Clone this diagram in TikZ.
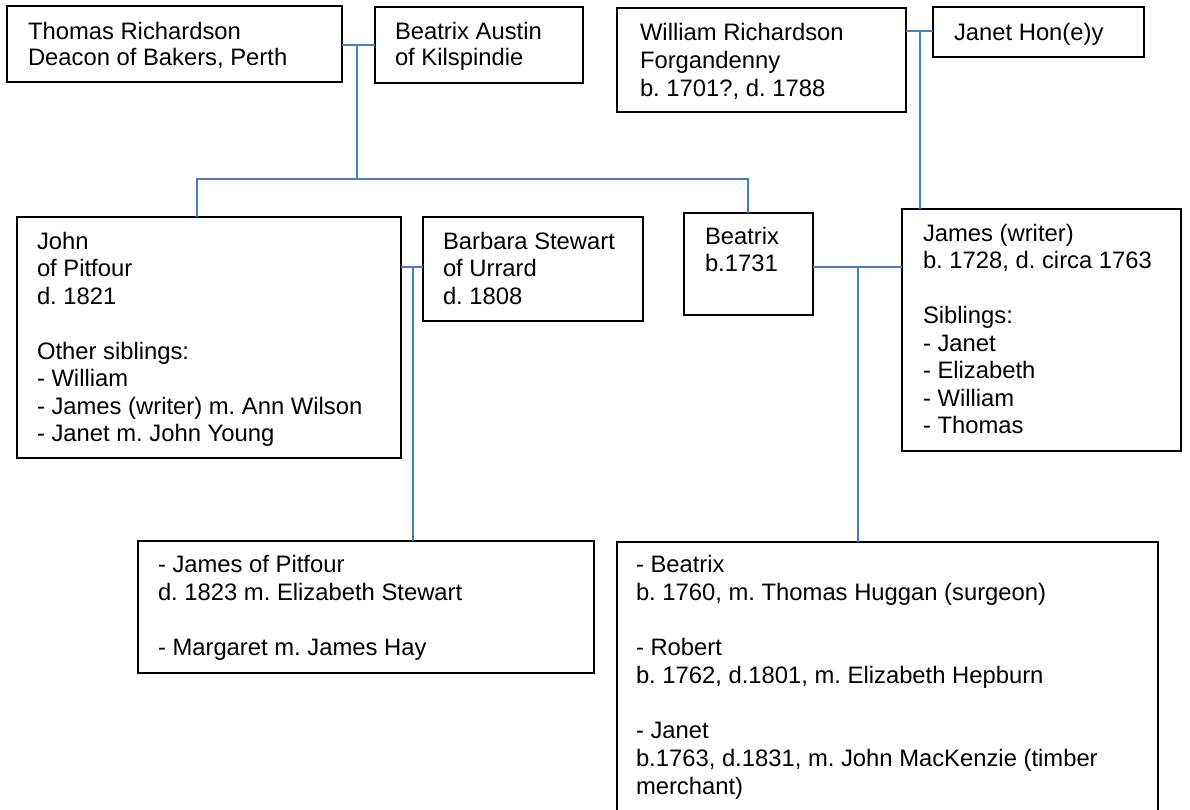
\documentclass[tikz,border=0pt]{standalone}
\usepackage{fontspec}
\setmainfont{Liberation Sans}
\usetikzlibrary{calc}
\frenchspacing

\definecolor{linkblue}{RGB}{74,126,187}

\begin{document}
\begin{tikzpicture}[x=1pt,y=-1pt,
  box/.style={draw=black, line width=1.6pt, inner sep=0pt, outer sep=0pt,
              anchor=north west, fill=none},
  txt/.style={inner sep=0pt, outer sep=0pt, anchor=north west, align=left,
              execute at begin node={\rule{0pt}{18pt}}},
  fs/.style={font=\fontsize{23.8}{#1}\selectfont\frenchspacing},
  link/.style={draw=linkblue, line width=1.8pt}
]
\useasboundingbox (0,0) rectangle (1190,809);

% family boxes
\node[box, minimum width=335pt, minimum height=76pt]  (thomas)  at (7,6)     {};
\node[box, minimum width=208pt, minimum height=76pt]  (beaA)    at (375,7)   {};
\node[box, minimum width=289pt, minimum height=104pt] (william) at (617,8)   {};
\node[box, minimum width=211pt, minimum height=50pt]  (janet)   at (933,7)   {};
\node[box, minimum width=384pt, minimum height=241pt] (john)    at (17,217)  {};
\node[box, minimum width=220pt, minimum height=104pt] (barbara) at (423,217) {};
\node[box, minimum width=129pt, minimum height=102pt] (beaC)    at (684,213) {};
\node[box, minimum width=279pt, minimum height=242pt] (james)   at (902,209) {};
\node[box, minimum width=456pt, minimum height=132pt] (pitfour) at (138,541) {};
\node[box, minimum width=541pt, minimum height=285pt] (kids)    at (617,542) {};

% box texts
\node[txt, fs=26] (thomas-t) at (28,22) {Thomas Richardson\\Deacon of Bakers, Perth};
\node[txt, fs=26] (beaA-t) at (395,22) {Beatrix Austin\\of Kilspindie};
\node[txt, fs=28] (william-t) at (640,23) {William Richardson\\Forgandenny\\b. 1701?, d. 1788};
\node[txt, fs=28] (janet-t) at (954,22) {Janet Hon(e)y};
\node[txt, fs=27.5] (john-t) at (37,232) {John\\of Pitfour\\d. 1821\\[27.5pt]Other siblings:\\- William\\- James (writer) m. Ann Wilson\\- Janet m. John Young};
\node[txt, fs=27.5] (barbara-t) at (443,232) {Barbara Stewart\\of Urrard\\d. 1808};
\node[txt, fs=27.5] (beaC-t) at (705,227) {Beatrix\\b.1731};
\node[txt, fs=27.5] (james-t) at (923,224) {James (writer)\\b. 1728, d. circa 1763\\[27.5pt]Siblings:\\- Janet\\- Elizabeth\\- William\\- Thomas};
\node[txt, fs=27.75] (pitfour-t) at (158,555) {- James of Pitfour\\d. 1823 m. Elizabeth Stewart\\[27.75pt]- Margaret m. James Hay};
\node[txt, fs=27.75] (kids-t) at (636,555) {- Beatrix\\b. 1760, m. Thomas Huggan (surgeon)\\[27.75pt]- Robert\\b. 1762, d.1801, m. Elizabeth Hepburn\\[27.75pt]- Janet\\b.1763, d.1831, m. John MacKenzie (timber\\merchant)};

% junction points of the marriage and sibling lines
\coordinate (m1) at (357,45);
\coordinate (m2) at (920,31);
\coordinate (m3) at (413,267);
\coordinate (m4) at (858,267);
\coordinate (barL) at (197,179);
\coordinate (barR) at (748,179);

% Thomas Richardson + Beatrix Austin
\draw[link] (thomas.east |- m1) -- (beaA.west |- m1);
\draw[link] (m1) -- (m1 |- barL);
\draw[link] (barL |- john.north) -- (barL) -- (barR) -- (barR |- beaC.north);

% William Richardson + Janet Hon(e)y
\draw[link] (william.east |- m2) -- (janet.west |- m2);
\draw[link] (m2) -- (m2 |- james.north);

% John + Barbara Stewart
\draw[link] (john.east |- m3) -- (barbara.west |- m3);
\draw[link] (m3) -- (m3 |- pitfour.north);

% Beatrix + James
\draw[link] (beaC.east |- m4) -- (james.west |- m4);
\draw[link] (m4) -- (m4 |- kids.north);
\end{tikzpicture}
\end{document}
